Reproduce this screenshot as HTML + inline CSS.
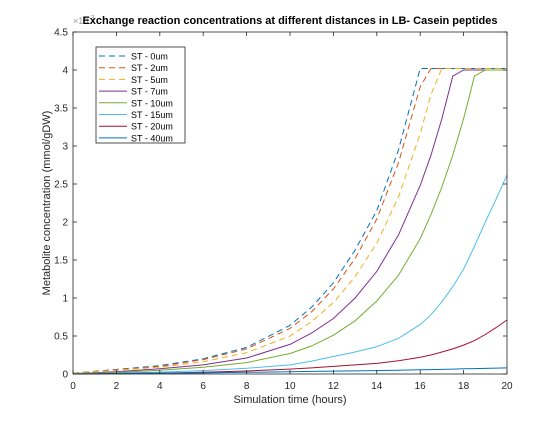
<!DOCTYPE html>
<html><head><meta charset="utf-8"><style>
body{margin:0;background:#fff;width:560px;height:420px;overflow:hidden}
svg{font-family:"Liberation Sans",sans-serif}
</style></head><body>
<svg id="chart" width="560" height="420" xmlns="http://www.w3.org/2000/svg">
<rect width="560" height="420" fill="#fff"/>
<g id="plot"></g>
</svg>
<script>
const times=[0,2,4,6,8,10,11,12,13,14,15,16,16.5,17,17.5,18,18.5,19,19.5,20];
const seriesNames=["ST - 0um","ST - 2um","ST - 5um","ST - 7um","ST - 10um","ST - 15um","ST - 20um","ST - 40um"];
const s0=[0.01,0.06,0.11,0.2,0.35,0.64,0.88,1.2,1.63,2.15,2.95,4.02,4.02,4.02,4.02,4.02,4.02,4.02,4.02,4.02];
const s2=[0.01,0.055,0.1,0.19,0.33,0.6,0.82,1.12,1.52,2.04,2.78,3.78,4.02,4.02,4.02,4.02,4.02,4.02,4.02,4.02];
const s5=[0.01,0.05,0.09,0.16,0.28,0.5,0.69,0.94,1.28,1.72,2.33,3.16,3.68,4.02,4.02,4.02,4.02,4.02,4.02,4.02];
const s7=[0.005,0.03,0.07,0.12,0.21,0.39,0.54,0.73,1.0,1.35,1.83,2.48,2.88,3.36,3.92,4.0,4.0,4.0,4.0,4.0];
const s10=[0.005,0.02,0.05,0.09,0.15,0.27,0.37,0.51,0.7,0.96,1.3,1.78,2.1,2.46,2.88,3.36,3.92,4.0,4.0,4.0];
const s15=[0,0.01,0.025,0.045,0.075,0.12,0.17,0.23,0.29,0.36,0.47,0.65,0.78,0.95,1.15,1.38,1.68,2.0,2.3,2.62];
const s20=[0,0.006,0.012,0.022,0.04,0.065,0.08,0.1,0.12,0.14,0.175,0.22,0.25,0.29,0.33,0.38,0.44,0.52,0.61,0.71];
const s40=[0,0.005,0.01,0.015,0.022,0.03,0.034,0.038,0.041,0.045,0.05,0.055,0.058,0.061,0.064,0.068,0.071,0.074,0.077,0.08];
const xTicks=[0,2,4,6,8,10,12,14,16,18,20];
const yTicks=[0,0.5,1,1.5,2,2.5,3,3.5,4,4.5];
const allSeries=[s0,s2,s5,s7,s10,s15,s20,s40];
const colors=["#0072BD","#D95319","#EDB120","#7E2F8E","#77AC30","#4DBEEE","#A2142F","#0072BD"];
const dashed=[true,true,true,false,false,false,false,false];
const L=73,R=507,T=32,B=374;
const xs=v=>L+(v-0)/20*(R-L);
const ys=v=>B-(v-0)/4.5*(B-T);
const NS="http://www.w3.org/2000/svg";
const g=document.getElementById('plot');
function mk(tag,attrs,parent){const e=document.createElementNS(NS,tag);for(const k in attrs)e.setAttribute(k,attrs[k]);(parent||g).appendChild(e);return e;}
allSeries.forEach((s,i)=>{
  const d=s.map((v,j)=>(j?'L':'M')+xs(times[j]).toFixed(1)+','+ys(v).toFixed(1)).join(' ');
  const p=mk('path',{d:d,fill:'none',stroke:colors[i],'stroke-width':1,'stroke-dasharray':dashed[i]?'6,4':'none'});
  
  
});
const box=mk('rect',{x:L,y:T,width:R-L,height:B-T,fill:'none',stroke:'#262626','stroke-width':0.8});


xTicks.forEach(t=>{
  const x=xs(t);
  mk('line',{x1:x,y1:B,x2:x,y2:B-4,stroke:'#262626','stroke-width':0.8});
  mk('line',{x1:x,y1:T,x2:x,y2:T+4,stroke:'#262626','stroke-width':0.8});
  const tx=mk('text',{x:x,y:B+15,'text-anchor':'middle','font-size':10,fill:'#262626'});tx.textContent=t;
  
  
});
yTicks.forEach(t=>{
  const y=ys(t);
  mk('line',{x1:L,y1:y,x2:L+4,y2:y,stroke:'#262626','stroke-width':0.8});
  mk('line',{x1:R,y1:y,x2:R-4,y2:y,stroke:'#262626','stroke-width':0.8});
  const tx=mk('text',{x:L-5,y:y+3.5,'text-anchor':'end','font-size':10,fill:'#262626'});tx.textContent=t;
  
  
});
const lg=mk('g',{});


mk('rect',{x:96,y:47,width:89,height:96,fill:'#fff',stroke:'#262626','stroke-width':0.8},lg);
seriesNames.forEach((n,i)=>{
  const y=56+i*11.7;
  mk('line',{x1:99,y1:y,x2:127,y2:y,stroke:colors[i],'stroke-width':1,'stroke-dasharray':dashed[i]?'6,4':'none'},lg);
  const tx=mk('text',{x:131,y:y+3.5,'font-size':9,fill:'#000'},lg);tx.textContent=n;
  
  
});
</script>
<svg width="560" height="420" style="position:absolute;left:0;top:0" xmlns="http://www.w3.org/2000/svg">
<text x="73" y="24" font-size="9" fill="#999">×10<tspan dy="-4" font-size="7">-3</tspan></text>
<text x="290" y="24" text-anchor="middle" font-size="11" font-weight="bold" fill="#000">Exchange reaction concentrations at different distances in LB- Casein peptides</text>
<text x="290" y="403" text-anchor="middle" font-size="11" fill="#262626">Simulation time (hours)</text>
<text transform="translate(50,203) rotate(-90)" text-anchor="middle" font-size="11" fill="#262626">Metabolite concentration (mmol/gDW)</text>
</svg>
</body></html>
